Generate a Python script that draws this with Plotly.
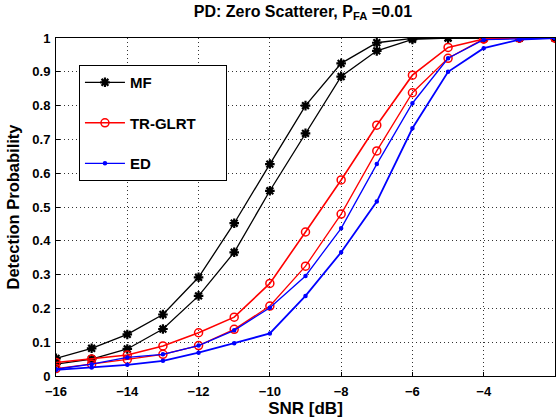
import plotly.graph_objects as go

# SNR points (dB)
snr = [-16, -15, -14, -13, -12, -11, -10, -9, -8, -7, -6, -5, -4, -3, -2]

# detection probability curves (two curves per detector)
mf_a = [0.052, 0.082, 0.123, 0.182, 0.292, 0.452, 0.627, 0.80, 0.925, 0.986, 0.999, 1.0, 1.0, 1.0, 1.0]
mf_b = [0.035, 0.050, 0.080, 0.139, 0.237, 0.366, 0.548, 0.718, 0.886, 0.962, 0.996, 1.0, 1.0, 1.0, 1.0]
tr_a = [0.040, 0.050, 0.062, 0.089, 0.128, 0.174, 0.274, 0.426, 0.580, 0.742, 0.890, 0.972, 0.997, 1.0, 1.0]
tr_b = [0.022, 0.035, 0.049, 0.064, 0.090, 0.138, 0.207, 0.325, 0.479, 0.666, 0.838, 0.940, 0.997, 1.0, 1.0]
ed_a = [0.020, 0.035, 0.055, 0.064, 0.090, 0.135, 0.202, 0.296, 0.437, 0.627, 0.807, 0.940, 0.995, 0.998, 1.0]
ed_b = [0.018, 0.025, 0.033, 0.045, 0.069, 0.097, 0.126, 0.237, 0.366, 0.516, 0.733, 0.900, 0.970, 0.995, 1.0]

fig = go.Figure()

def add_curve(y, name, color, symbol, size, width, show, mlw=1.5):
    fig.add_trace(go.Scatter(
        x=snr, y=y, name='<b>' + name + '</b>      ', mode='lines+markers',
        line=dict(color=color, width=width),
        marker=dict(symbol=symbol, size=size, color=color,
                    line=dict(color=color, width=mlw)),
        showlegend=show, legendgroup=name,
    ))

add_curve(mf_a, 'MF', 'black', 'asterisk-open', 8, 1.3, True, 2.2)
add_curve(mf_b, 'MF', 'black', 'asterisk-open', 8, 1.3, False, 2.2)
add_curve(tr_a, 'TR-GLRT', '#ff0000', 'circle-open', 8, 1.6, True)
add_curve(tr_b, 'TR-GLRT', '#ff0000', 'circle-open', 8, 1.3, False)
add_curve(ed_a, 'ED', '#0000ff', 'circle', 3, 1.3, True)
add_curve(ed_b, 'ED', '#0000ff', 'circle', 3, 1.8, False)

font_family = 'Liberation Sans, Arial'
tick_font = dict(family=font_family, size=13, color='black')
common_axis = dict(
    tickfont=tick_font, tickprefix='<b>', ticksuffix='</b>',
    showgrid=True, gridcolor='#333333', griddash='1px,3px', gridwidth=1,
    showline=True, linecolor='black', linewidth=1, mirror=True,
    ticks='inside', ticklen=4, tickcolor='black', zeroline=False,
    automargin=False,
)

fig.update_layout(
    width=560, height=420,
    margin=dict(l=56, r=5, t=38, b=44),
    paper_bgcolor='white', plot_bgcolor='white',
    title=dict(text='<b>PD: Zero Scatterer, P<sub>FA</sub> =0.01</b>',
               x=0.541, xanchor='center', y=0.987, yanchor='top', yref='container',
               automargin=False,
               font=dict(family=font_family, size=16, color='black')),
    xaxis=dict(
        title=dict(text='<b>SNR [dB]</b>', font=dict(family=font_family, size=17, color='black'), standoff=2),
        range=[-16, -2], dtick=2, tick0=-16, ticklabelstandoff=3, **common_axis,
    ),
    yaxis=dict(
        title=dict(text='<b>Detection Probability</b>', font=dict(family=font_family, size=16.5, color='black'), standoff=8),
        range=[0, 1], dtick=0.1, ticklabelstandoff=2, **common_axis,
    ),
    legend=dict(
        x=0.046, y=0.92, xanchor='left', yanchor='top',
        bgcolor='white', bordercolor='black', borderwidth=1,
        font=dict(family=font_family, size=15, color='black'),
        tracegroupgap=18, itemwidth=40,
    ),
)

# drop the page's default body margin so the figure sits at the window's corner
fig.write_html("out.html", config={'displayModeBar': False},
               post_script="document.body.style.margin='0';")
